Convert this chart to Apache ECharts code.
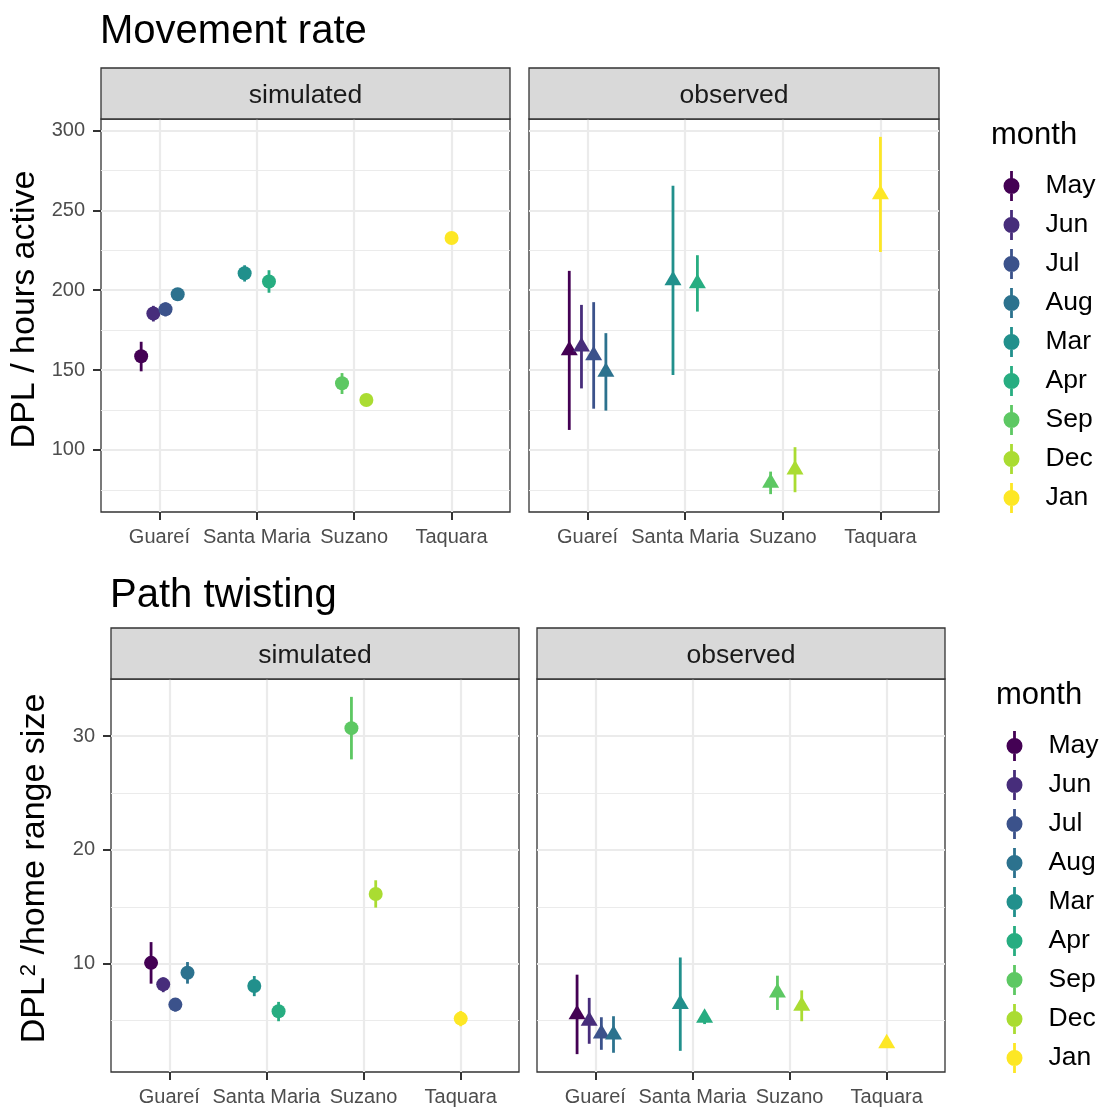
<!DOCTYPE html>
<html>
<head>
<meta charset="utf-8">
<script src="https://cdn.jsdelivr.net/npm/echarts@6/dist/echarts.min.js"></script>
<style>
  html, body { margin: 0; padding: 0; background: #ffffff; }
  #chart { width: 1106px; height: 1111px; }
</style>
</head>
<body>
<div id="chart"></div>
<script>
// Months in legend order, and the study site each month belongs to
const months = ['May', 'Jun', 'Jul', 'Aug', 'Mar', 'Apr', 'Sep', 'Dec', 'Jan'];
const monthSite = ['Guareí', 'Guareí', 'Guareí', 'Guareí', 'Santa Maria', 'Santa Maria', 'Suzano', 'Suzano', 'Taquara'];
const sites = ['Guareí', 'Santa Maria', 'Suzano', 'Taquara'];
const monthColors = ['#440154', '#472D7B', '#3B528B', '#2C728E', '#21908C', '#27AD81', '#5DC863', '#AADC32', '#FDE725'];

// Movement rate (DPL / hours active): mean and interval bounds per month
const rateSimMean = [158.6, 185.4, 188.1, 197.5, 210.6, 205.4, 141.7, 131.2, 232.7];
const rateSimLow  = [149.2, 180.4, 183.6, 195.8, 205.4, 198.4, 135.0, 129.6, 231.2];
const rateSimHigh = [167.7, 190.2, 192.3, 199.2, 215.6, 212.5, 148.1, 132.8, 234.2];
const rateObsMean = [162.3, 164.6, 159.2, 148.9, 206.2, 204.2, 79.4, 87.6, 259.9];
const rateObsLow  = [112.5, 138.5, 125.8, 124.6, 146.9, 186.6, 72.3, 73.5, 223.9];
const rateObsHigh = [212.1, 190.8, 192.5, 173.1, 265.4, 221.9, 86.4, 101.7, 296.0];

// Path twisting (DPL^2 / home range size)
const twistSimMean = [10.08, 8.19, 6.41, 9.21, 8.05, 5.83, 30.69, 16.13, 5.18];
const twistSimLow  = [8.25, 7.50, 5.80, 8.25, 7.15, 4.95, 27.95, 14.93, 4.51];
const twistSimHigh = [11.90, 8.80, 6.95, 10.15, 8.92, 6.65, 33.44, 17.33, 5.85];
const twistObsMean = [5.55, 4.98, 3.87, 3.78, 6.45, 5.24, 7.45, 6.30, 3.00];
const twistObsLow  = [2.06, 2.97, 2.44, 2.18, 2.35, 4.70, 5.94, 4.95, 2.80];
const twistObsHigh = [9.04, 7.00, 5.30, 5.39, 10.55, 5.80, 8.95, 7.66, 3.20];

// Axis ticks and grid lines
const rateTicks = [100, 150, 200, 250, 300];
const rateMinor = [75, 125, 175, 225, 275];
const twistTicks = [10, 20, 30];
const twistMinor = [5, 15, 25];
const siteTicks = [1, 2, 3, 4];

const FONT = '"Liberation Sans", Arial, Helvetica, sans-serif';

// Dodge months side by side within each site (total dodge width 0.5)
function dodgeX(i) {
  const group = months.map((m, j) => j).filter(j => monthSite[j] === monthSite[i]);
  const n = group.length;
  const k = group.indexOf(i);
  return sites.indexOf(monthSite[i]) + 1 + (k - (n - 1) / 2) * (0.5 / n);
}

// Continuous range padded by 5% on each side
function paddedRange(lows, highs) {
  const lo = Math.min(...lows.flat());
  const hi = Math.max(...highs.flat());
  const pad = (hi - lo) * 0.05;
  return [lo - pad, hi + pad];
}
const rateRange = paddedRange([rateSimLow, rateObsLow], [rateSimHigh, rateObsHigh]);
const twistRange = paddedRange([twistSimLow, twistObsLow], [twistSimHigh, twistObsHigh]);

const panels = [
  { grid: { left: 101, top: 119, width: 409, height: 393 }, mean: rateSimMean, low: rateSimLow, high: rateSimHigh,
    symbol: 'circle', range: rateRange, ticks: rateTicks, minor: rateMinor, strip: 'simulated', first: true,
    yName: 'DPL / hours active', namePad: 12 },
  { grid: { left: 529, top: 119, width: 410, height: 393 }, mean: rateObsMean, low: rateObsLow, high: rateObsHigh,
    symbol: 'triangle', range: rateRange, ticks: rateTicks, minor: rateMinor, strip: 'observed', first: false },
  { grid: { left: 111, top: 679, width: 408, height: 393 }, mean: twistSimMean, low: twistSimLow, high: twistSimHigh,
    symbol: 'circle', range: twistRange, ticks: twistTicks, minor: twistMinor, strip: 'simulated', first: true,
    yName: 'DPL{sup|2} /home range size', namePad: 14 },
  { grid: { left: 537, top: 679, width: 408, height: 393 }, mean: twistObsMean, low: twistObsLow, high: twistObsHigh,
    symbol: 'triangle', range: twistRange, ticks: twistTicks, minor: twistMinor, strip: 'observed', first: false }
];

const grids = [], xAxes = [], yAxes = [], series = [], graphics = [];

panels.forEach((p, gi) => {
  grids.push(Object.assign({ show: true, backgroundColor: '#ffffff', borderColor: '#333333', borderWidth: 1.3 }, p.grid));

  xAxes.push({
    type: 'value', gridIndex: gi, min: 0.4, max: 4.6,
    axisLine: { show: false }, splitLine: { show: false },
    axisTick: { show: true, customValues: siteTicks, length: 8, lineStyle: { color: '#333333', width: 2 } },
    axisLabel: { show: true, customValues: siteTicks, formatter: v => sites[Math.round(v) - 1],
      fontSize: 20, color: '#4D4D4D', fontFamily: FONT, margin: 15 }
  });

  const yAxis = {
    type: 'value', gridIndex: gi, min: p.range[0], max: p.range[1],
    axisLine: { show: false }, splitLine: { show: false },
    axisTick: { show: p.first, customValues: p.ticks, length: 8, lineStyle: { color: '#333333', width: 2 } },
    axisLabel: { show: p.first, customValues: p.ticks, fontSize: 20, color: '#4D4D4D', fontFamily: FONT, margin: 16 }
  };
  if (p.yName) {
    Object.assign(yAxis, {
      name: p.yName, nameLocation: 'middle', nameRotate: 90, nameGap: 59,
      nameTextStyle: { fontSize: 34, color: '#000000', fontFamily: FONT, padding: [0, 0, 0, p.namePad],
        rich: { sup: { fontSize: 22, color: '#000000', fontFamily: FONT, verticalAlign: 'top', padding: [0, 0, 6, 1] } } }
    });
  }
  yAxes.push(yAxis);

  // panel grid lines
  const lineData = [];
  p.minor.forEach(v => lineData.push({ yAxis: v, lineStyle: { width: 1.1 } }));
  p.ticks.forEach(v => lineData.push({ yAxis: v, lineStyle: { width: 2.2 } }));
  siteTicks.forEach(v => lineData.push({ xAxis: v, lineStyle: { width: 2.2 } }));
  series.push({
    type: 'scatter', xAxisIndex: gi, yAxisIndex: gi, data: [], z: 1, silent: true,
    markLine: { silent: true, z: 1, symbol: ['none', 'none'], label: { show: false }, animation: false,
      lineStyle: { color: '#EBEBEB', type: 'solid' }, emphasis: { disabled: true }, data: lineData }
  });

  months.forEach((m, i) => {
    const x = dodgeX(i);
    series.push({
      type: 'scatter', name: m, xAxisIndex: gi, yAxisIndex: gi,
      data: [[x, p.mean[i]]],
      symbol: p.symbol,
      symbolSize: p.symbol === 'circle' ? 14 : [17, 14.5],
      symbolOffset: p.symbol === 'circle' ? [0, 0] : [0, -2.4],
      itemStyle: { color: monthColors[i], opacity: 1 },
      z: 4
    });
    series.push({
      type: 'custom', name: m, xAxisIndex: gi, yAxisIndex: gi,
      data: [[x, p.low[i], p.high[i]]],
      encode: { x: 0, y: [1, 2] },
      itemStyle: { color: monthColors[i] },
      renderItem: (params, api) => {
        const a = api.coord([api.value(0), api.value(1)]);
        const b = api.coord([api.value(0), api.value(2)]);
        return { type: 'line', shape: { x1: a[0], y1: a[1], x2: b[0], y2: b[1] },
          style: { stroke: monthColors[i], lineWidth: 2.8 } };
      },
      z: 3
    });
  });

  // facet strip
  const g = p.grid;
  graphics.push({ type: 'rect', z: 10, shape: { x: g.left, y: g.top - 51, width: g.width, height: 51 },
    style: { fill: '#D9D9D9', stroke: '#333333', lineWidth: 1.3 } });
  graphics.push({ type: 'text', z: 11, style: { x: g.left + g.width / 2, y: g.top - 23.5, text: p.strip,
    font: '26.5px ' + FONT, fill: '#1A1A1A', align: 'center', verticalAlign: 'middle' } });
});

// plot titles and legend titles
graphics.push({ type: 'text', z: 11, style: { x: 100, y: 32.3, text: 'Movement rate', font: '40px ' + FONT,
  fill: '#000000', align: 'left', verticalAlign: 'middle' } });
graphics.push({ type: 'text', z: 11, style: { x: 110, y: 596, text: 'Path twisting', font: '40px ' + FONT,
  fill: '#000000', align: 'left', verticalAlign: 'middle' } });
graphics.push({ type: 'text', z: 11, style: { x: 991, y: 135.4, text: 'month', font: '31px ' + FONT,
  fill: '#000000', align: 'left', verticalAlign: 'middle' } });
graphics.push({ type: 'text', z: 11, style: { x: 996, y: 695.4, text: 'month', font: '31px ' + FONT,
  fill: '#000000', align: 'left', verticalAlign: 'middle' } });

// legend key: point with a vertical interval line through it
const keyIcon = 'path://M6.6,0 L9.4,0 L9.4,30 L6.6,30 Z M16,15 A8,8 0 1,1 0,15 A8,8 0 1,1 16,15 Z';
function makeLegend(left, top) {
  return {
    orient: 'vertical', left: left, top: top, padding: 0,
    itemWidth: 16, itemHeight: 30, itemGap: 9,
    data: months.map(m => ({ name: m, icon: keyIcon })),
    textStyle: { fontSize: 26.5, color: '#000000', fontFamily: FONT, padding: [0, 0, 0, 21] }
  };
}

const chart = echarts.init(document.getElementById('chart'), null, { renderer: 'canvas' });
chart.setOption({
  animation: false,
  backgroundColor: '#ffffff',
  grid: grids,
  xAxis: xAxes,
  yAxis: yAxes,
  legend: [makeLegend(1003.5, 171), makeLegend(1006.5, 731)],
  series: series,
  graphic: graphics
});
</script>
</body>
</html>
